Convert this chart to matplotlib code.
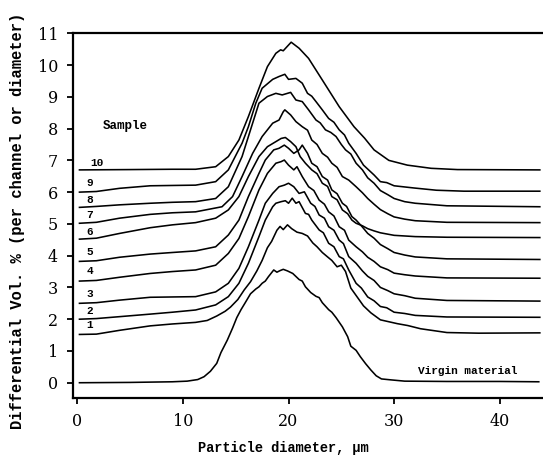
import matplotlib
matplotlib.use("Agg")
import matplotlib.pyplot as plt

# ---------------- data ----------------
virgin_x = [0.2, 5, 9, 10.4, 11.4, 12.0, 12.6, 13.2, 13.6, 14.2, 14.7, 15.1, 15.5, 15.9, 16.4, 16.9,
            17.2, 17.5, 17.8, 18.1, 18.6, 18.9, 19.2, 19.5, 19.9, 20.4, 21.0, 21.3, 21.6, 22.1, 22.6,
            22.9, 23.2, 23.8, 24.1, 24.5, 25.1, 25.6, 25.9, 26.4, 26.8, 27.3, 27.8, 28.3, 28.8, 29.7,
            31, 35, 40, 43.7]
virgin_y = [0.0, 0.01, 0.03, 0.05, 0.10, 0.19, 0.36, 0.61, 0.95, 1.34, 1.72, 2.05, 2.30, 2.52, 2.80, 2.95,
            3.02, 3.13, 3.20, 3.34, 3.55, 3.48, 3.53, 3.57, 3.52, 3.44, 3.25, 3.20, 3.02, 2.84, 2.72,
            2.68, 2.52, 2.30, 2.22, 2.05, 1.76, 1.45, 1.15, 1.02, 0.82, 0.60, 0.40, 0.22, 0.12, 0.09,
            0.05, 0.04, 0.04, 0.03]

s1_x = [0.2, 1.8, 4.0, 6.9, 9.0, 11.2, 12.3, 13.2, 14.0, 14.5, 15.2, 15.8, 16.4, 17.0, 17.5, 18.0, 18.4,
        18.9, 19.2, 19.5, 19.9, 20.3, 20.8, 21.3, 21.8, 22.3, 22.7, 23.2, 23.7, 24.1, 24.6, 25.0, 25.4,
        25.9, 26.5, 27.1, 27.8, 28.7, 29.5, 30.3, 31.3, 32.5, 35.0, 38.0, 43.8]
s1_y = [1.52, 1.53, 1.65, 1.79, 1.85, 1.90, 1.96, 2.10, 2.25, 2.38, 2.62, 2.92, 3.18, 3.52, 3.85, 4.25, 4.45,
        4.80, 4.92, 4.82, 4.97, 4.85, 4.74, 4.70, 4.62, 4.40, 4.28, 4.10, 3.96, 3.85, 3.65, 3.70, 3.50,
        2.98, 2.70, 2.42, 2.20, 1.98, 1.92, 1.86, 1.80, 1.70, 1.58, 1.56, 1.57]

s2_x = [0.2, 1.8, 4.0, 6.9, 9.0, 11.2, 13.1, 14.3, 15.3, 16.2, 17.2, 17.8, 18.5, 18.8, 19.3, 19.7, 20.0,
        20.35, 20.7, 21.0, 21.6, 21.9, 22.2, 22.9, 23.3, 23.8, 24.3, 24.8, 25.2, 25.7, 26.4, 26.9,
        27.5, 28.1, 28.7, 29.3, 30.0, 31.0, 32.0, 35.0, 43.8]
s2_y = [2.00, 2.02, 2.08, 2.16, 2.22, 2.29, 2.45, 2.71, 3.13, 3.76, 4.60, 5.12, 5.54, 5.65, 5.70, 5.73, 5.65,
        5.81, 5.65, 5.70, 5.33, 5.30, 5.12, 4.81, 4.72, 4.39, 4.28, 3.97, 3.90, 3.55, 3.13, 2.98,
        2.70, 2.58, 2.40, 2.36, 2.22, 2.18, 2.12, 2.07, 2.06]

s3_x = [0.2, 1.8, 4.0, 6.9, 9.0, 11.2, 13.1, 14.3, 15.3, 16.2, 17.2, 17.8, 18.5, 19.1, 19.6, 20.0, 20.5,
        21.0, 21.5, 22.1, 22.5, 22.9, 23.4, 23.8, 24.3, 24.8, 25.2, 25.7, 26.4, 27.0, 27.5, 28.1,
        28.7, 29.4, 30.0, 31.0, 32.0, 35.0, 43.8]
s3_y = [2.50, 2.52, 2.60, 2.69, 2.70, 2.71, 2.86, 3.13, 3.60, 4.28, 5.12, 5.65, 5.96, 6.17, 6.22, 6.28, 6.17,
        5.96, 6.01, 5.65, 5.55, 5.28, 5.18, 4.91, 4.80, 4.49, 4.38, 3.97, 3.76, 3.52, 3.35, 3.22,
        3.00, 2.90, 2.80, 2.74, 2.66, 2.59, 2.57]

s4_x = [0.2, 1.8, 4.0, 6.9, 9.0, 11.2, 13.1, 14.3, 15.3, 16.2, 17.2, 18.0, 18.8, 19.3, 19.6, 20.0, 20.5,
        20.8, 21.3, 21.9, 22.4, 22.9, 23.4, 23.8, 24.3, 24.8, 25.3, 25.7, 26.4, 27.0, 27.5, 28.1,
        28.7, 29.4, 30.0, 31.0, 32.0, 35.0, 43.8]
s4_y = [3.20, 3.22, 3.32, 3.44, 3.50, 3.55, 3.70, 4.07, 4.54, 5.23, 6.07, 6.59, 6.91, 6.96, 7.01, 6.85, 6.70,
        6.80, 6.49, 6.17, 6.05, 5.75, 5.62, 5.38, 5.25, 4.91, 4.80, 4.49, 4.28, 4.12, 3.95, 3.82,
        3.65, 3.56, 3.45, 3.40, 3.36, 3.30, 3.29]

s5_x = [0.2, 1.8, 4.0, 6.9, 9.0, 11.2, 13.1, 14.3, 15.3, 16.2, 17.2, 17.8, 18.6, 19.1, 19.6, 20.0, 20.5,
        21.0, 21.3, 21.8, 22.2, 22.7, 23.2, 23.7, 24.1, 24.6, 25.1, 25.5, 26.0, 26.4, 27.0, 27.5,
        28.1, 28.7, 29.4, 30.0, 31.0, 32.0, 35.0, 43.8]
s5_y = [3.82, 3.84, 3.95, 4.05, 4.10, 4.15, 4.28, 4.65, 5.12, 5.86, 6.59, 7.01, 7.33, 7.38, 7.48, 7.38, 7.22,
        7.33, 7.48, 7.22, 6.91, 6.80, 6.49, 6.38, 6.07, 5.95, 5.65, 5.55, 5.23, 5.12, 4.90, 4.70,
        4.55, 4.35, 4.22, 4.10, 4.02, 3.96, 3.90, 3.88]

s6_x = [0.2, 1.8, 4.0, 6.9, 9.0, 11.2, 13.1, 14.3, 15.3, 16.2, 17.2, 18.0, 18.8, 19.3, 19.7, 20.2, 20.7,
        21.1, 21.6, 22.2, 22.7, 23.2, 23.7, 24.1, 24.6, 25.1, 25.6, 26.0, 26.4, 27.0, 27.5, 28.1,
        28.7, 30.0, 31.0, 32.0, 35.0, 43.8]
s6_y = [4.52, 4.55, 4.70, 4.88, 4.97, 5.04, 5.18, 5.44, 5.86, 6.49, 7.12, 7.43, 7.59, 7.69, 7.72, 7.59, 7.43,
        7.12, 6.91, 6.70, 6.58, 6.28, 6.18, 5.86, 5.76, 5.44, 5.32, 5.12, 5.02, 4.94, 4.85, 4.78,
        4.72, 4.64, 4.62, 4.60, 4.58, 4.57]

s7_x = [0.2, 1.8, 4.0, 6.9, 9.0, 11.2, 13.7, 14.7, 15.6, 16.6, 17.5, 18.5, 19.1, 19.5, 19.65, 20.2, 20.7,
        21.3, 21.8, 22.2, 22.7, 23.2, 23.7, 24.1, 24.6, 25.1, 25.7, 26.4, 27.0, 27.5, 28.1, 28.7,
        29.4, 30.0, 31.0, 32.0, 35.0, 43.8]
s7_y = [5.02, 5.05, 5.18, 5.30, 5.35, 5.38, 5.54, 5.86, 6.49, 7.22, 7.75, 8.17, 8.27, 8.53, 8.59, 8.43, 8.22,
        8.06, 7.95, 7.64, 7.50, 7.22, 7.10, 6.91, 6.78, 6.49, 6.38, 6.17, 5.98, 5.80, 5.62, 5.45,
        5.32, 5.22, 5.15, 5.10, 5.05, 5.04]

s8_x = [0.2, 1.8, 4.0, 6.9, 9.0, 11.2, 13.1, 14.3, 15.6, 16.6, 17.2, 18.0, 18.8, 19.4, 20.2, 20.7, 21.3,
        21.9, 22.6, 23.0, 23.5, 24.0, 24.5, 25.0, 25.4, 25.9, 26.4, 27.0, 27.5, 28.1, 28.7, 29.4,
        30.0, 31.0, 32.0, 35.0, 43.8]
s8_y = [5.52, 5.55, 5.60, 5.65, 5.68, 5.70, 5.80, 6.17, 7.12, 8.17, 8.80, 9.01, 9.11, 9.06, 9.14, 8.90, 8.85,
        8.59, 8.27, 8.18, 7.96, 7.88, 7.75, 7.50, 7.33, 7.20, 6.91, 6.70, 6.45, 6.28, 6.05, 5.92,
        5.80, 5.70, 5.65, 5.57, 5.54]

s9_x = [0.2, 1.8, 4.0, 6.9, 9.0, 11.2, 13.1, 14.3, 15.6, 16.2, 16.9, 17.5, 18.5, 19.1, 19.65, 20.0, 20.7,
        21.3, 21.8, 22.2, 22.6, 23.2, 23.8, 24.3, 24.8, 25.3, 25.7, 26.4, 27.1, 28.1, 28.7, 29.3,
        30.0, 31.9, 34.0, 36.6, 43.8]
s9_y = [6.00, 6.02, 6.12, 6.20, 6.21, 6.22, 6.33, 6.70, 7.54, 8.06, 8.80, 9.27, 9.55, 9.64, 9.71, 9.55, 9.58,
        9.43, 9.11, 9.02, 8.85, 8.59, 8.32, 8.20, 7.96, 7.80, 7.54, 7.22, 6.85, 6.54, 6.33, 6.30,
        6.20, 6.13, 6.06, 6.03, 6.03]

s10_x = [0.2, 5.0, 9.0, 11.2, 13.1, 14.3, 15.3, 16.2, 17.2, 18.0, 18.8, 19.25, 19.5, 20.25, 21.0, 21.9,
         23.2, 24.8, 26.2, 27.2, 28.1, 29.5, 31.25, 33.5, 36.0, 43.8]
s10_y = [6.70, 6.71, 6.72, 6.72, 6.80, 7.12, 7.64, 8.38, 9.27, 9.95, 10.37, 10.48, 10.45, 10.72, 10.53, 10.21,
         9.53, 8.69, 8.06, 7.70, 7.33, 7.00, 6.85, 6.75, 6.71, 6.70]

sample_labels = ["1", "2", "3", "4", "5", "6", "7", "8", "9", "10"]
label_y = [1.82, 2.27, 2.79, 3.53, 4.12, 4.75, 5.28, 5.75, 6.28, 6.93]

x_ticks = [0, 10, 20, 30, 40]
y_ticks = list(range(0, 12))

samples_x = [s1_x, s2_x, s3_x, s4_x, s5_x, s6_x, s7_x, s8_x, s9_x, s10_x]
samples_y = [s1_y, s2_y, s3_y, s4_y, s5_y, s6_y, s7_y, s8_y, s9_y, s10_y]

# ---------------- figure ----------------
W, H = 543, 457
fig = plt.figure(figsize=(W / 100, H / 100), dpi=100)
ax_l, ax_b, ax_t = 72.7, 398.3, 33.3
ax = fig.add_axes([ax_l / W, 1 - ax_b / H, 1 - ax_l / W, (ax_b - ax_t) / H])
aw, ah = W - ax_l, ax_b - ax_t

lw = 1.15
ax.plot(virgin_x, virgin_y, color="black", lw=lw)
for xs, ys in zip(samples_x, samples_y):
    ax.plot(xs, ys, color="black", lw=lw)

ax.set_xlim(-0.44, 44.1)
ax.set_ylim(-0.49, 11.0)

mono = "Liberation Mono"
for lab, yy in zip(sample_labels, label_y):
    xx = 1.25 if len(lab) > 1 else 0.85
    ax.text(xx, yy, lab, fontsize=8, fontweight="bold", family=mono,
            ha="left", va="center")
ax.text(4.55, 8.08, "Sample", fontsize=9, fontweight="bold", family=mono,
        ha="center", va="center")
ax.text(37.0, 0.37, "Virgin material", fontsize=8, fontweight="bold", family=mono,
        ha="center", va="center")

ax.set_xticks(x_ticks)
ax.set_yticks(y_ticks)
ax.set_xticklabels([str(v) for v in x_ticks], family="DejaVu Serif", fontsize=11.5)
ax.set_yticklabels([str(v) for v in y_ticks], family="DejaVu Serif", fontsize=11.5)
ax.tick_params(direction="out", length=4.5, width=1.3, pad=6, color="black")

for side in ["left", "bottom", "top"]:
    ax.spines[side].set_linewidth(1.6)
ax.spines["right"].set_visible(False)

ax.set_xlabel("Particle diameter, \u00b5m", family=mono, fontweight="bold", fontsize=9.8)
ax.xaxis.set_label_coords((283 - ax_l) / aw, (ax_b - 441) / ah)
ax.set_ylabel("Differential Vol. % (per channel or diameter)", family=mono,
              fontweight="bold", fontsize=11.2)
ax.yaxis.set_label_coords((25 - ax_l) / aw, (ax_b - 221) / ah)

fig.savefig("out.png", dpi=100)
